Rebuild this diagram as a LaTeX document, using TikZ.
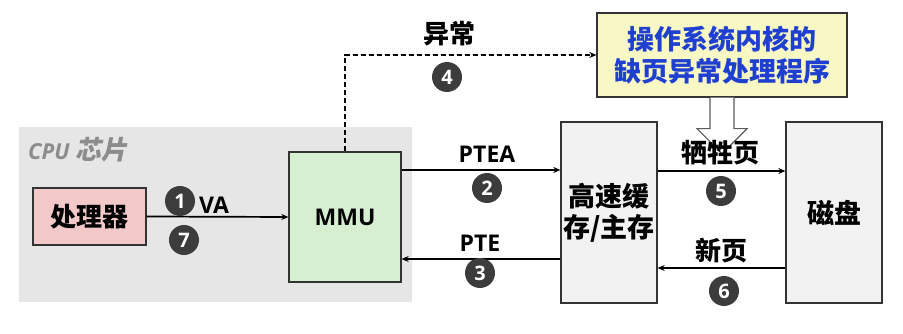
\documentclass[tikz,border=0pt]{standalone}
\usepackage{fontspec}
\setmainfont{Open Sans}
\newfontfamily\cjk{Noto Sans CJK SC}
\newfontfamily\cjkit{Noto Sans CJK SC}[FakeSlant=0.2]
\usetikzlibrary{arrows.meta,calc}
\definecolor{cpubg}{HTML}{E6E6E6}
\definecolor{pinkc}{HTML}{F2C8C8}
\definecolor{greenc}{HTML}{D6EFD0}
\definecolor{grayc}{HTML}{F2F2F2}
\definecolor{yellowc}{HTML}{F8F8C4}
\definecolor{bluec}{HTML}{1E3FD0}
\definecolor{numc}{HTML}{3C3C3C}
\definecolor{edgec}{HTML}{333333}
\definecolor{lblc}{HTML}{8C8C8C}
\tikzset{
  box/.style={draw=edgec, line width=1.3pt, inner sep=0pt},
  conn/.style={line width=1.7pt, -{Stealth[length=7pt,width=6pt]}},
  num/.style={circle, fill=numc, text=white, inner sep=0pt, minimum size=30pt,
    font=\bfseries\fontsize{20}{20}\selectfont},
  lat/.style={font=\bfseries\fontsize{23}{23}\selectfont},
  zh/.style={font=\cjk\bfseries\fontsize{26}{26}\selectfont},
}
\begin{document}
\begin{tikzpicture}[x=1pt,y=-1pt]
\useasboundingbox (0,0) rectangle (903,334);
% CPU region
\node[fill=cpubg, minimum width=393pt, minimum height=175pt, inner sep=0pt] (cpu) at (215.5,214.5) {};
\node[anchor=west, text=lblc, inner sep=0pt] (cpulbl) at (28,150)
  {\fontsize{22}{22}\selectfont\bfseries\itshape CPU \cjkit\bfseries\fontsize{26}{26}\selectfont 芯片};
% boxes
\node[box, fill=pinkc, minimum width=113pt, minimum height=57pt, zh] (proc) at (89.5,216.5) {处理器};
\node[box, fill=greenc, minimum width=112pt, minimum height=130pt, lat] (mmu) at (345,217) {MMU};
\node[box, fill=grayc, minimum width=96pt, minimum height=181pt, align=center,
  font=\cjk\bfseries\fontsize{27}{31}\selectfont] (cache) at (609,212.5) {高速缓\\存/主存};
\node[box, fill=grayc, minimum width=96pt, minimum height=181pt,
  font=\cjk\bfseries\fontsize{27}{27}\selectfont] (disk) at (834,212.5) {磁盘};
\node[box, fill=yellowc, minimum width=250pt, minimum height=84pt, align=center, text=bluec,
  font=\cjk\bfseries\fontsize{27}{32}\selectfont] (os) at (722,55) {操作系统内核的\\缺页异常处理程序};
% hollow arrow
\draw[draw=edgec!80, fill=white, line width=1.2pt]
  ($(os.south)+(-12,0)$) -- ++(0,31) -- ++(-13,0) -- ($(os.south)+(0,56)$)
  -- ($(os.south)+(25,31)$) -- ++(-13,0) -- ($(os.south)+(12,0)$);
% connectors
\draw[conn] (proc.east) -- (mmu.west);
\draw[conn, dashed, dash pattern=on 5pt off 3pt] (mmu.north) |- (os.west);
\draw[conn] (mmu.east |- 0,170) -- (cache.west |- 0,170);
\draw[conn] (cache.west |- 0,259) -- (mmu.east |- 0,259);
\draw[conn] (cache.east |- 0,171) -- (disk.west |- 0,171);
\draw[conn] (disk.west |- 0,268) -- (cache.east |- 0,268);
% labels
\node[num] (n1) at (180,201) {1};
\node[lat] (va) at (214,205) {VA};
\node[num] (n7) at (184,240) {7};
\node[zh] (yc) at (449,34) {异常};
\node[num] (n4) at (447,77) {4};
\node[lat] (ptea) at (487,154) {PTEA};
\node[num] (n2) at (487,188) {2};
\node[lat] (pte) at (480,243) {PTE};
\node[num] (n3) at (480,273) {3};
\node[zh] (xsy) at (720,153) {牺牲页};
\node[num] (n5) at (721,191) {5};
\node[zh] (xy) at (721,251) {新页};
\node[num] (n6) at (724,291) {6};
\end{tikzpicture}
\end{document}
